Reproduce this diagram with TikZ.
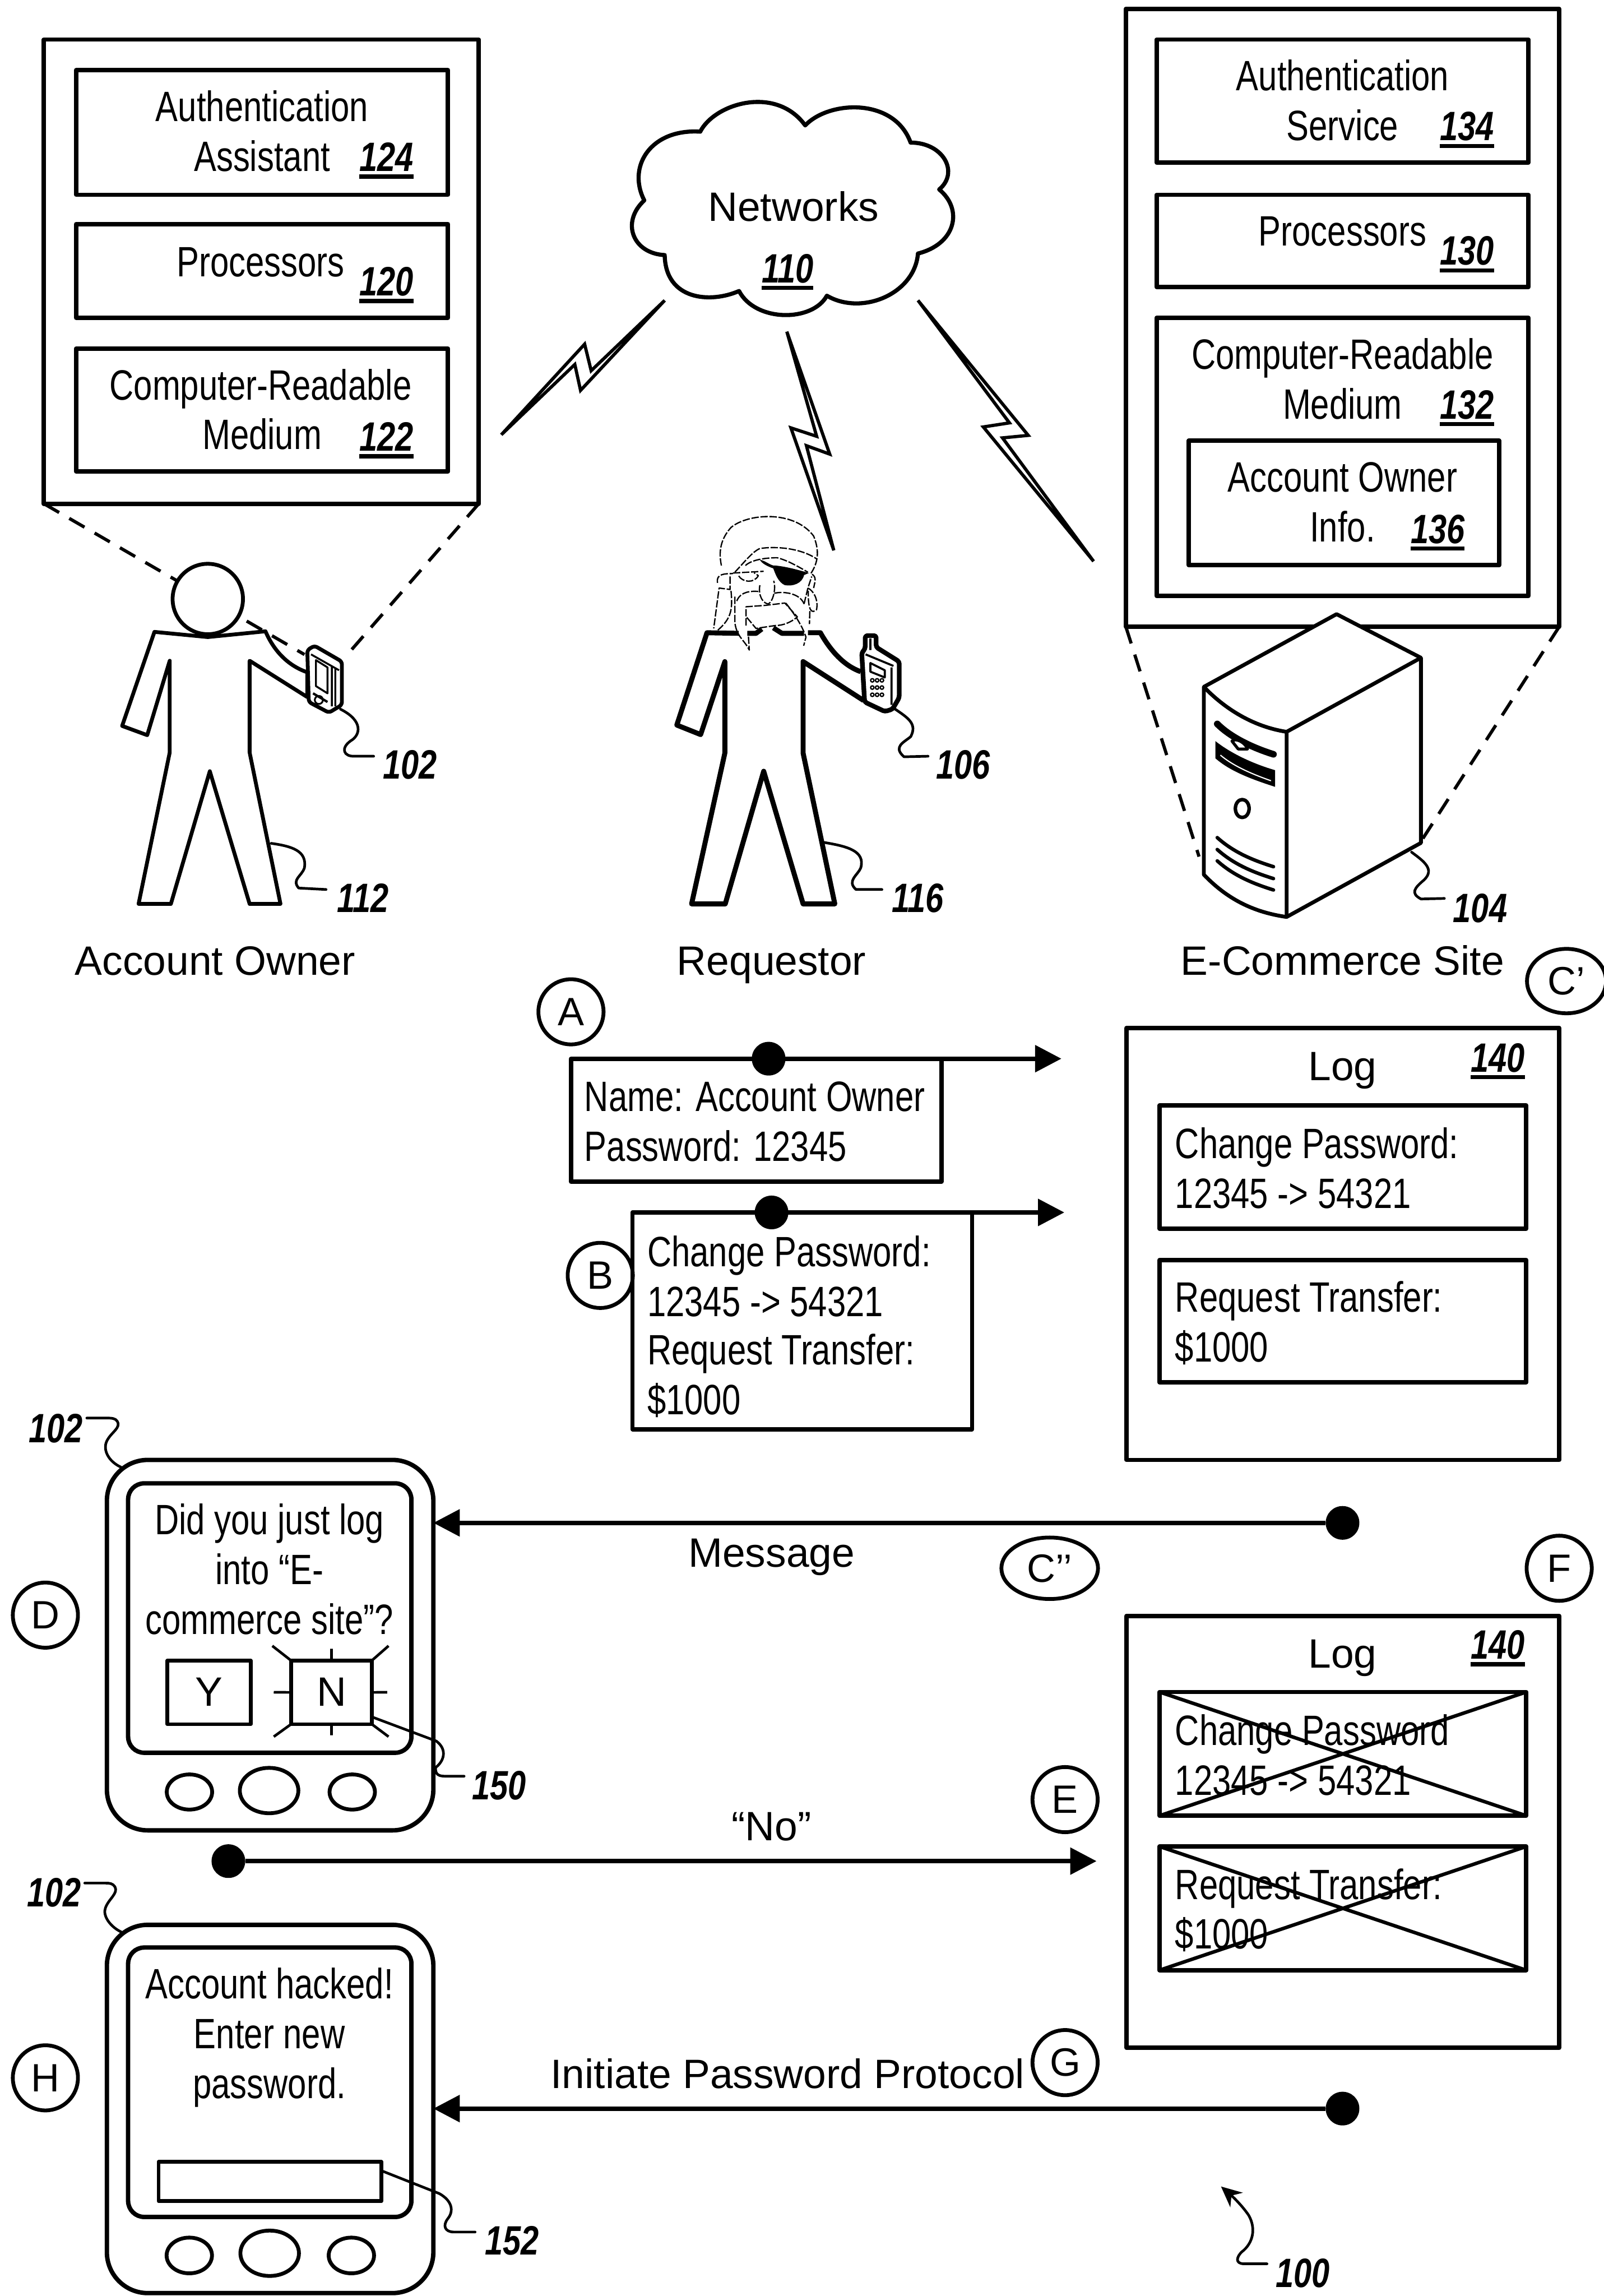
\documentclass[tikz,border=0pt]{standalone}
\usepackage{fontspec}
\setmainfont{Liberation Sans}
\newfontfamily\cond[FakeStretch=0.79]{Liberation Sans}
\usetikzlibrary{arrows.meta,shapes.geometric}
\newsavebox{\rnumbox}
\newcommand\rnum[1]{{\cond\bfseries\itshape\fontsize{28}{28}\selectfont #1}}
\newcommand\rnumu[1]{\sbox{\rnumbox}{\rnum{#1}}\usebox{\rnumbox}\kern-\wd\rnumbox\rule[-5pt]{\wd\rnumbox}{2.8pt}}
\newcommand\bx[6][]{\node[panelbox,#1,minimum width={(#5-#3)*1pt},minimum height={(#6-#4)*1pt}] (#2) at ({(#3+#5)/2},{(#4+#6)/2}) {};}
\newcommand\tx[6]{\node[#1,inner sep=0pt,anchor=#5] (#2) at (#3,{#4+10}) {#6};}
\tikzset{
  panelbox/.style={draw,line width=3pt,fill=white,inner sep=0pt,outer sep=0pt},
  ct/.style={font=\cond\fontsize{29}{34}\selectfont},
  rt/.style={font=\fontsize{28}{34}\selectfont},
  nt/.style={font=\rnum{}},
  circ/.style={circle,draw,line width=2.6pt,inner sep=0pt,minimum size=44.5pt,font=\fontsize{27}{27}\selectfont},
  oval/.style={ellipse,draw,line width=2.6pt,inner sep=0pt,font=\fontsize{27}{27}\selectfont},
  dotn/.style={circle,fill=black,inner sep=0pt,minimum size=23pt},
  flow/.style={line width=3pt,-{Triangle[length=18pt,width=18pt]}},
  call/.style={line width=2.2pt,dash pattern=on 12pt off 8pt},
  lead/.style={line width=1.8pt,line cap=round},
  thin line/.style={line width=.9pt,dash pattern=on 5pt off 1.2pt},
  btn/.style={ellipse,draw,line width=2.6pt,inner sep=0pt,outer sep=0pt},
}
\begin{document}
\begin{tikzpicture}[x=1pt,y=-1pt,line join=round]
\useasboundingbox (0,0) rectangle (1095.3,1568);
\fill[white] (0,0) rectangle (1095.3,1568);

% ---------- left panel
\bx{leftpanel}{30}{27}{327}{344}
\bx{assist}{52}{48}{306}{133}
\bx{procL}{52}{153}{306}{217}
\bx{crmL}{52}{238}{306}{322}
\tx{ct}{t1}{179}{73}{base}{Authentication}
\tx{ct}{t2}{179}{107}{base}{Assistant}
\tx{nt}{n124}{264}{107}{base}{\rnumu{124}}
\tx{ct}{t3}{178}{179}{base}{Processors}
\tx{nt}{n120}{264}{192}{base}{\rnumu{120}}
\tx{ct}{t4}{178}{263}{base}{Computer-Readable}
\tx{ct}{t5}{179}{297}{base}{Medium}
\tx{nt}{n122}{264}{298}{base}{\rnumu{122}}

% ---------- right panel
\bx{rightpanel}{769}{6}{1065}{428}
\bx{authsvc}{790}{27}{1044}{111}
\bx{procR}{790}{133}{1044}{196}
\bx{crmR}{790}{217}{1044}{407}
\bx{acct}{812}{301}{1024}{386}
\tx{ct}{t6}{917}{52}{base}{Authentication}
\tx{ct}{t7}{917}{86}{base}{Service}
\tx{nt}{n134}{1002}{86}{base}{\rnumu{134}}
\tx{ct}{t8}{917}{158}{base}{Processors}
\tx{nt}{n130}{1002}{171}{base}{\rnumu{130}}
\tx{ct}{t9}{917}{242}{base}{Computer-Readable}
\tx{ct}{t10}{917}{276}{base}{Medium}
\tx{nt}{n132}{1002}{276}{base}{\rnumu{132}}
\tx{ct}{t11}{917}{326}{base}{Account Owner}
\tx{ct}{t12}{917}{360}{base}{Info.}
\tx{nt}{n136}{982}{361}{base}{\rnumu{136}}

% ---------- cloud and lightning
\begin{scope}[shift={(334.6,51.5)},xscale=.279,yscale=.2134]
\draw[line width=2.8pt,fill=white] (378,400)
 .. controls (335,290) and (395,170) .. (515,180)
 .. controls (550,90) and (700,30) .. (772,160)
 .. controls (830,80) and (990,70) .. (1030,215)
 .. controls (1110,215) and (1150,310) .. (1100,365)
 .. controls (1160,430) and (1140,540) .. (1048,570)
 .. controls (1040,700) and (910,770) .. (825,705)
 .. controls (790,790) and (650,790) .. (610,690)
 .. controls (540,730) and (430,720) .. (428,575)
 .. controls (350,570) and (320,470) .. (378,400) -- cycle;
\draw[line width=2.2pt,fill=white,line join=miter] (428,720)--(248,945)--(232,860)--(28,1150)--(208,925)--(222,1008)--cycle;
\draw[line width=2.2pt,fill=white,line join=miter] (727,820)--(800,1155)--(737,1128)--(842,1520)--(775,1185)--(832,1212)--cycle;
\draw[line width=2.2pt,fill=white,line join=miter] (1048,720)--(1318,1152)--(1255,1160)--(1478,1555)--(1208,1125)--(1272,1112)--cycle;
\end{scope}
\tx{rt}{tnet}{542}{141}{base}{Networks}
\tx{nt}{n110}{538}{183}{base}{\rnumu{110}}

% ---------- callout lines
\coordinate (calloutA) at (208,447);
\coordinate (calloutB) at (239,445);
\draw[call] (leftpanel.south west) -- (calloutA);
\draw[call] (leftpanel.south east) -- (calloutB);
\coordinate (calloutC) at (819,585);
\coordinate (calloutD) at (971,574);
\draw[call] (rightpanel.south west) -- (calloutC);
\draw[call] (rightpanel.south east) -- (calloutD);

% ---------- account owner
\begin{scope}[shift={(25.7,334.6)},scale=.197]
\draw[line width=2.6pt,fill=white] (405,492) -- (590,510) -- (790,490) .. controls (820,560) and (870,610) .. (935,632) -- (935,718)
 -- (735,592) -- (735,910) -- (842,1435) -- (735,1435) -- (597,975) -- (462,1435) -- (350,1435) -- (458,910) -- (458,592) -- (380,850) -- (293,818) -- cycle;
\draw[line width=2.6pt,fill=white] (590,378) circle[radius=122];
\draw[line width=2.6pt,fill=white,rounded corners=2pt] (935,555) -- (960,540) -- (1055,595) -- (1055,745) -- (1010,772) -- (940,735) -- cycle;
\draw[line width=1.3pt] (948,570) -- (1045,625) (965,590) -- (1005,615) -- (1005,705) -- (965,680) -- cycle (1020,610) -- (1020,750) (1032,615) -- (1032,750);
\draw[line width=1.2pt] (975,728) circle[radius=14];
\draw[line width=1.6pt] (955,705) -- (1005,735);
\draw[lead] (1050,760) .. controls (1130,800) and (1120,850) .. (1085,870) .. controls (1050,895) and (1060,925) .. (1100,923) -- (1165,923);
\draw[lead] (810,1225) .. controls (880,1235) and (935,1250) .. (925,1310) .. controls (915,1340) and (880,1350) .. (905,1380) -- (1000,1385);
\end{scope}
\tx{nt}{n102a}{280}{522}{base}{\rnum{102}}
\tx{nt}{n112}{248}{613}{base}{\rnum{112}}

% ---------- requestor
\begin{scope}[shift={(437.6,334.6)},xscale=.1313,yscale=.197]
\fill[white] (345,495) -- (935,495) -- (1145,630) -- (1160,730) -- (845,595) -- (845,912) -- (1010,1435) -- (845,1435) -- (640,975) -- (440,1435) -- (265,1435) -- (438,912) -- (438,595) -- (312,848) -- (188,815) -- cycle;
\draw[line width=3.4pt] (1160,730) -- (845,595) -- (845,912) -- (1010,1435) -- (845,1435) -- (640,975) -- (440,1435) -- (265,1435) -- (438,912) -- (438,595) -- (312,848) -- (188,815) -- (345,495) -- (510,497);
\draw[line width=3.4pt] (555,497) -- (600,497) -- (630,482) (690,478) -- (735,497) -- (850,497) (870,495) -- (935,495) .. controls (990,560) and (1060,610) .. (1145,630);
% pirate head
\draw[thin line] (420,262) .. controls (400,200) and (430,160) .. (470,130) .. controls (560,80) and (800,70) .. (900,160) .. controls (930,210) and (925,250) .. (885,290) .. controls (920,300) and (905,320) .. (900,340);
\draw[thin line] (490,285) .. controls (540,250) and (580,215) .. (620,203) .. controls (700,195) and (830,200) .. (918,240);
\draw[thin line] (545,262) .. controls (580,240) and (660,235) .. (710,235) .. controls (770,245) and (830,270) .. (870,285);
\draw[thin line] (480,288) -- (640,282) (510,298) .. controls (530,320) and (590,325) .. (612,297) -- (590,287);
\draw[thin line] (400,322) .. controls (390,290) and (440,290) .. (480,290) (465,300) -- (465,345) -- (408,340) -- (380,480);
\draw[thin line] (470,350) .. controls (480,420) and (470,450) .. (385,495);
\draw[thin line] (620,330) .. controls (610,370) and (640,395) .. (665,395) .. controls (690,385) and (705,340) .. (692,315);
\draw[thin line] (500,385) .. controls (520,350) and (580,350) .. (615,352) (695,358) .. controls (750,350) and (830,360) .. (850,395);
\draw[thin line] (548,470) -- (548,405) -- (650,400) -- (750,392) -- (815,440) .. controls (780,460) and (740,470) .. (700,470) -- (600,480) -- (550,440);
\draw[thin line] (490,370) -- (490,460) .. controls (500,510) and (540,520) .. (565,555) -- (560,500);
\draw[thin line] (755,392) .. controls (800,430) and (840,470) .. (860,510) -- (848,540) (880,420) -- (878,465);
\draw[thin line] (870,340) .. controls (900,350) and (925,380) .. (915,415) .. controls (890,430) and (870,420) .. (872,350) (850,395) -- (870,340) -- (890,300);
\fill (620,242) .. controls (650,245) and (680,265) .. (700,262) .. controls (750,265) and (810,275) .. (875,288) -- (850,295) .. controls (840,325) and (790,335) .. (750,330) .. controls (715,320) and (700,290) .. (690,272) .. controls (660,265) and (630,255) .. (620,242) -- cycle;
% phone
\draw[line width=3.2pt,fill=white,rounded corners=1.5pt] (1150,565) -- (1168,550) -- (1168,505) -- (1225,505) -- (1225,545) -- (1345,595) -- (1345,720) -- (1310,760) -- (1270,768) -- (1165,735) -- cycle;
\draw[line width=1.4pt] (1170,570) -- (1315,610) (1195,600) -- (1270,625) -- (1270,650) -- (1195,630) -- cycle (1305,615) -- (1305,745) (1195,515) -- (1195,555);
\foreach \kx in {1205,1230,1255}{\foreach \ky in {0,1,2}{
  \draw[line width=.9pt] ({\kx},{660+\ky*25}) ellipse[x radius=9,y radius=6];}}
\draw[lead] (1320,758) .. controls (1390,790) and (1440,810) .. (1405,855) .. controls (1370,875) and (1310,890) .. (1370,925) -- (1495,923);
\draw[lead] (955,1222) .. controls (1070,1235) and (1170,1250) .. (1145,1310) .. controls (1130,1335) and (1070,1355) .. (1120,1385) -- (1255,1385);
\end{scope}
\tx{nt}{n106}{658}{522}{base}{\rnum{106}}
\tx{nt}{n116}{627}{613}{base}{\rnum{116}}

% ---------- server
\begin{scope}[shift={(746.5,386)},xscale=.2134,yscale=.1806]
\draw[line width=2.6pt,fill=white] (355,460) -- (780,185) -- (1050,350) -- (1050,1050) -- (620,1330) .. controls (500,1310) and (420,1250) .. (355,1170) -- cycle;
\draw[line width=2.6pt] (355,460) .. controls (420,540) and (510,610) .. (620,630) -- (1050,350) (620,630) -- (620,1330);
\draw[line width=4.5pt,line cap=round] (398,600) .. controls (440,650) and (510,690) .. (578,715);
\draw[line width=2pt,fill=white] (445,665) .. controls (460,650) and (490,675) .. (495,695) -- (465,695) -- cycle;
\fill (392,665) .. controls (440,710) and (510,750) .. (583,775) -- (583,838) .. controls (510,810) and (440,780) .. (392,730) -- cycle;
\draw[white,line width=.8pt] (408,718) .. controls (450,760) and (510,790) .. (570,815);
\draw[line width=2.4pt] (478,920) ellipse[x radius=22,y radius=34];
\foreach \ly in {0,45,88}{
  \draw[line width=2.4pt,line cap=round] (398,{1030+\ly}) .. controls (450,{1085+\ly}) and (510,{1115+\ly}) .. (578,{1140+\ly});}
\draw[lead] (1020,1085) .. controls (1060,1120) and (1095,1150) .. (1060,1190) .. controls (1030,1220) and (1015,1240) .. (1050,1262) -- (1125,1260);
\end{scope}
\tx{nt}{n104}{1011}{620}{base}{\rnum{104}}

% ---------- column labels
\tx{rt}{lblOwner}{147}{656}{base}{Account Owner}
\tx{rt}{lblReq}{527}{656}{base}{Requestor}
\tx{rt}{lblSite}{917}{656}{base}{E-Commerce Site}
\node[oval,minimum width=54pt,minimum height=44pt] (markCp) at (1070,670) {C’};

% ---------- messages A, B
\node[circ] (markA) at (390,691) {A};
\bx{msgA}{390}{723}{643}{807}
\tx{ct}{t13}{399}{749}{base west}{Name: Account Owner}
\tx{ct}{t14}{399}{783}{base west}{Password: 12345}
\bx{msgB}{432}{828}{664}{976}
\tx{ct}{t15}{442}{855}{base west}{Change Password:}
\tx{ct}{t16}{442}{889}{base west}{12345 -> 54321}
\tx{ct}{t17}{442}{922}{base west}{Request Transfer:}
\tx{ct}{t18}{442}{956}{base west}{\$1000}
\node[circ] (markB) at (410,871) {B};
\node[dotn] (dotA) at (525,723) {};
\node[dotn] (dotB) at (527,828) {};
\coordinate (endA) at (725,723);
\coordinate (endB) at (727,828);
\draw[flow] (dotA) -- (endA);
\draw[flow] (dotB) -- (endB);

% ---------- log 1
\bx{logA}{769.5}{702}{1065}{997}
\tx{rt}{t19}{917}{728}{base}{Log}
\tx{nt}{n140a}{1023}{722}{base}{\rnumu{140}}
\bx{logA1}{792}{755}{1042.5}{839}
\tx{ct}{t20}{802.5}{781}{base west}{Change Password:}
\tx{ct}{t21}{802.5}{815}{base west}{12345 -> 54321}
\bx{logA2}{792}{860.5}{1042.5}{944}
\tx{ct}{t22}{802.5}{886}{base west}{Request Transfer:}
\tx{ct}{t23}{802.5}{920}{base west}{\$1000}

% ---------- log 2
\bx{logB}{769.5}{1103.5}{1065}{1398.5}
\tx{rt}{t24}{917}{1129}{base}{Log}
\tx{nt}{n140b}{1023}{1123}{base}{\rnumu{140}}
\bx{logB1}{792}{1155.5}{1042.5}{1240}
\draw[line width=2.4pt] (logB1.north west) -- (logB1.south east) (logB1.north east) -- (logB1.south west);
\tx{ct}{t25}{802.5}{1182}{base west}{Change Password}
\tx{ct}{t26}{802.5}{1216}{base west}{12345 -> 54321}
\bx{logB2}{792}{1261}{1042.5}{1345.5}
\draw[line width=2.4pt] (logB2.north west) -- (logB2.south east) (logB2.north east) -- (logB2.south west);
\tx{ct}{t27}{802.5}{1287}{base west}{Request Transfer:}
\tx{ct}{t28}{802.5}{1321}{base west}{\$1000}

% ---------- device D
\bx[rounded corners=28pt]{devD}{73}{997}{296}{1250}
\bx[rounded corners=11pt]{scrD}{87.5}{1013}{281}{1197}
\tx{ct}{t29}{184}{1038}{base}{Did you just log}
\tx{ct}{t30}{184}{1072}{base}{into “E-}
\tx{ct}{t31}{184}{1106}{base}{commerce site”?}
\bx[line width=2.6pt]{keyY}{114.4}{1134}{171.2}{1177.5}
\bx[line width=2.6pt]{keyN}{198.8}{1134}{254}{1177.5}
\tx{rt}{t32}{142.8}{1155}{base}{Y}
\tx{rt}{t33}{226.4}{1155}{base}{N}
\draw[line width=1.8pt] (keyN.north west) -- (186,1124) (keyN.north east) -- (265.4,1124) (keyN.north) -- (226.4,1126)
  (keyN.west) -- (187,1155.7) (keyN.east) -- (264.5,1155.7) (keyN.south) -- (226.4,1185)
  (keyN.south west) -- (187,1186) (keyN.south east) -- (265.4,1186);
\node[btn,minimum width=31pt,minimum height=24pt] (bD1) at (129.4,1223.8) {};
\node[btn,minimum width=40pt,minimum height=31pt] (bD2) at (183.8,1222.8) {};
\node[btn,minimum width=31pt,minimum height=24pt] (bD3) at (240.6,1223.8) {};
\node[circ] (markD) at (31,1103) {D};
\draw[lead] (82.7,1002) .. controls (74,998) and (70,990) .. (73,984) .. controls (76,978) and (83,975) .. (80,970.5) .. controls (79,968.6) and (76,968.4) .. (73,968.4) -- (59.3,968.4);
\tx{nt}{n102b}{38}{975}{base}{\rnum{102}}
\draw[lead] (keyN.south east) ++(0,-5) -- (298,1189) .. controls (306,1195) and (303,1203) .. (297.6,1207) .. controls (297,1212) and (300,1213) .. (304,1213) -- (317,1213);
\tx{nt}{n150}{341}{1219}{base}{\rnum{150}}

% ---------- message arrows
\node[dotn] (dotC) at (917,1040) {};
\draw[flow] (dotC) -- (devD.east |- dotC);
\tx{rt}{t34}{527}{1060}{base}{Message}
\node[oval,minimum width=66pt,minimum height=42pt] (markCpp) at (717,1071) {C’’};
\node[circ] (markF) at (1065,1071) {F};
\node[circ] (markE) at (727.5,1229) {E};
\node[dotn] (dotE) at (156,1271) {};
\coordinate (endE) at (749,1271);
\draw[flow] (dotE) -- (endE);
\tx{rt}{t35}{527}{1247}{base}{“No”}
\node[circ] (markG) at (727.5,1408.6) {G};
\tx{rt}{t36}{538}{1416}{base}{Initiate Password Protocol}

% ---------- device H
\bx[rounded corners=28pt]{devH}{73}{1314.5}{296}{1566}
\bx[rounded corners=11pt]{scrH}{87.5}{1330}{281}{1514}
\tx{ct}{t37}{184}{1355}{base}{Account hacked!}
\tx{ct}{t38}{184}{1389}{base}{Enter new}
\tx{ct}{t39}{184}{1423}{base}{password.}
\bx[line width=2.6pt]{inputH}{108.3}{1476.4}{260.5}{1503.2}
\node[btn,minimum width=31pt,minimum height=24.4pt] (bH1) at (129.3,1540.3) {};
\node[btn,minimum width=40pt,minimum height=31pt] (bH2) at (184.2,1538.8) {};
\node[btn,minimum width=31pt,minimum height=24.4pt] (bH3) at (240,1540.3) {};
\node[circ] (markH) at (31,1419) {H};
\draw[lead] (83.7,1319.8) .. controls (75,1316) and (70,1308) .. (72,1303) .. controls (74,1297) and (81,1293) .. (78.5,1288.5) .. controls (77,1286.2) and (75,1286) .. (72,1286) -- (57.9,1286);
\tx{nt}{n102c}{37}{1292}{base}{\rnum{102}}
\draw[lead] (261,1482.6) -- (300,1498) .. controls (309,1503) and (310,1510) .. (306,1515) .. controls (302,1520) and (304,1524.3) .. (310,1524.3) -- (324.5,1524.3);
\tx{nt}{n152}{349.6}{1530}{base}{\rnum{152}}
\node[dotn] (dotG) at (917,1440) {};
\draw[flow] (dotG) -- (devH.east |- dotG);

% ---------- figure number
\coordinate (figTip) at (834,1493.2);
\draw[lead,-{Stealth[length=14pt,width=13pt]}] (865.4,1546) -- (850,1546) .. controls (843,1546) and (845,1541) .. (848,1538) .. controls (856,1532) and (858,1522) .. (853,1513) .. controls (849,1507) and (843,1501) .. (figTip);
\tx{nt}{n100}{890}{1552}{base}{\rnum{100}}
\end{tikzpicture}
\end{document}
